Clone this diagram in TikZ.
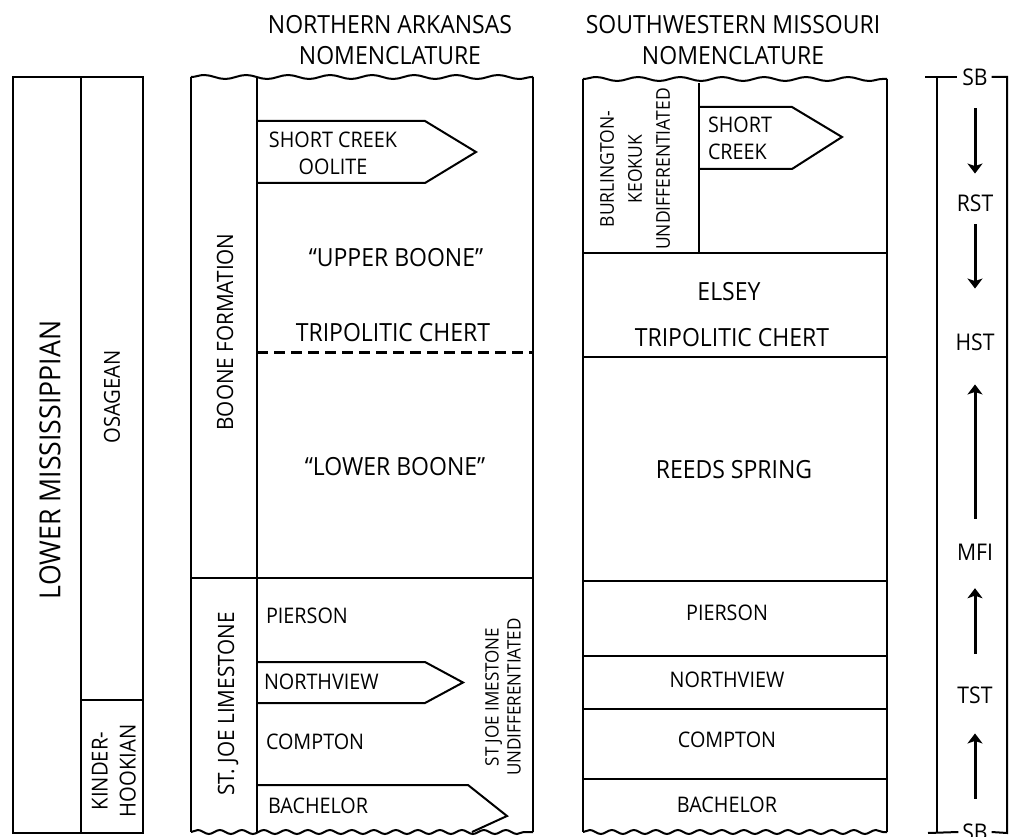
\documentclass[tikz,border=0pt]{standalone}
\usepackage{fontspec}
\setmainfont{Open Sans}[FakeStretch=0.92]
\usetikzlibrary{arrows.meta,decorations.pathmorphing}

\begin{document}
\begin{tikzpicture}[x=1pt,y=-1pt,line width=2pt,
    lbl/.style={font=\fontsize{21.5}{25}\selectfont,inner sep=0pt},
    mid/.style={font=\fontsize{25}{30}\selectfont,inner sep=0pt},
    head/.style={font=\fontsize{25}{31}\selectfont,inner sep=0pt,align=center},
    big/.style={font=\fontsize{29}{34}\selectfont,inner sep=0pt},
    small/.style={font=\fontsize{18.5}{22}\selectfont,inner sep=0pt,align=center},
    seqlbl/.style={font=\fontsize{23}{27}\selectfont,inner sep=0pt},
    wavetop/.style={decorate,decoration={snake,amplitude=2pt,segment length=42pt}},
    wavebot/.style={decorate,decoration={snake,amplitude=2pt,segment length=22pt}},
    seq/.style={line width=3pt,-{Stealth[width=15pt,length=10pt,inset=2.5pt]}}]
    \useasboundingbox (0,0) rectangle (1010,837);

    % headings
    \node [head] (nahead) at (390,40) {NORTHERN ARKANSAS\\NOMENCLATURE};
    \node [head] (swhead) at (733,40) {SOUTHWESTERN MISSOURI\\NOMENCLATURE};

    % series and stages
    \draw (13,77) rectangle (143,833);
    \draw (81,77) -- (81,833);
    \draw (81,700) -- (143,700);
    \node [big,rotate=90] (lowmiss) at (50,460) {LOWER MISSISSIPPIAN};
    \node [lbl,rotate=90,font=\fontsize{22}{25}\selectfont] (osage) at (112,397) {OSAGEAN};
    \node [lbl,rotate=90,align=center,font=\fontsize{22}{28}\selectfont] (kinder) at (114,771) {KINDER-\\HOOKIAN};

    % northern arkansas
    \begin{scope}
    \draw [wavetop] (191,77) -- (533,77);
    \draw [wavebot] (191,832) -- (533,832);
    \foreach \x in {191,257,533}
        \draw (\x,77) -- (\x,832);
    \draw (191,578) -- (533,578);
    \draw [line width=3pt,dash pattern=on 11pt off 6pt] (257,352) -- (533,352);
    \foreach \t/\b/\s/\p in {121/183/425/476,662/703/425/463}
        \draw (257,\t) -- (\s,\t) -- (\p,{(\t+\b)/2}) -- (\s,\b) -- (257,\b);
    \draw (257,785) -- (468,785) -- (507,816) -- (472,832);
    \end{scope}
    \node [lbl,align=center,font=\fontsize{21.5}{27}\selectfont] (oolite) at (333,153) {SHORT CREEK\\OOLITE};
    \node [mid] (upboone) at (396,258) {“UPPER BOONE”};
    \node [mid] (natrip) at (393,333) {TRIPOLITIC CHERT};
    \node [mid] (lowboone) at (395,467) {“LOWER BOONE”};
    \node [lbl,rotate=90,font=\fontsize{22.5}{25}\selectfont] (boone) at (225,332) {BOONE FORMATION};
    \node [lbl,rotate=90,font=\fontsize{22.5}{25}\selectfont] (stjoe) at (228,704) {ST. JOE LIMESTONE};
    \node [lbl,anchor=west] (napier) at (265,616) {PIERSON};
    \node [lbl,anchor=west] (nanorth) at (263,682) {NORTHVIEW};
    \node [lbl,anchor=west] (nacomp) at (265,742) {COMPTON};
    \node [lbl,anchor=west] (nabach) at (267,806) {BACHELOR};
    \node [small,rotate=90] (stjoeun) at (503,697) {ST JOE IMESTONE\\UNDIFFERENTIATED};

    % southwestern missouri
    \begin{scope}
    \draw [wavetop] (583,79) -- (887,79);
    \draw [wavebot] (583,832) -- (887,832);
    \foreach \x in {583,887}
        \draw (\x,79) -- (\x,832);
    \draw (699,83) -- (699,253);
    \foreach \y in {253,357,581,656,709,779}
        \draw (583,\y) -- (887,\y);
    \draw (699,107) -- (792,107) -- (842,137) -- (792,169) -- (699,169);
    \end{scope}
    \node [small,rotate=90,font=\fontsize{19}{28}\selectfont] (burl) at (635,169) {BURLINGTON-\\KEOKUK\\UNDIFFERENTIATED};
    \node [lbl,align=left,anchor=west,font=\fontsize{21.5}{27}\selectfont] (swshort) at (707,138) {SHORT\\CREEK};
    \node [mid] (elsey) at (729,292) {ELSEY};
    \node [mid] (swtrip) at (732,338) {TRIPOLITIC CHERT};
    \node [mid] (reeds) at (734,470) {REEDS SPRING};
    \node [lbl] (swpier) at (727,613) {PIERSON};
    \node [lbl] (swnorth) at (727,680) {NORTHVIEW};
    \node [lbl] (swcomp) at (727,740) {COMPTON};
    \node [lbl] (swbach) at (727,805) {BACHELOR};

    % sequence stratigraphy
    \node [seqlbl] (sbtop) at (975,77) {SB};
    \node [seqlbl] (rst) at (975,203) {RST};
    \node [seqlbl] (hst) at (975,342) {HST};
    \node [seqlbl] (mfi) at (975,552) {MFI};
    \node [seqlbl] (tst) at (975,695) {TST};
    \node [seqlbl] (sbbot) at (975,832) {SB};
    \draw (925,77) -- ([xshift=-4pt]sbtop.west);
    \draw ([xshift=3pt]sbtop.east) -- (1007,77) -- (1007,833) -- ([xshift=3pt]sbbot.east);
    \draw (937,77) -- (937,833);
    \draw (928,833) -- ([xshift=-3pt]sbbot.west);
    \draw [seq,shorten <=22pt,shorten >=20pt] (sbtop) -- (rst);
    \draw [seq,shorten <=12pt,shorten >=44pt] (rst) -- (hst);
    \draw [seq,shorten <=24pt,shorten >=33pt] (mfi) -- (hst);
    \draw [seq,shorten <=32pt,shorten >=27pt] (tst) -- (mfi);
    \draw [seq,shorten <=24pt,shorten >=29pt] (sbbot) -- (tst);
\end{tikzpicture}
\end{document}
